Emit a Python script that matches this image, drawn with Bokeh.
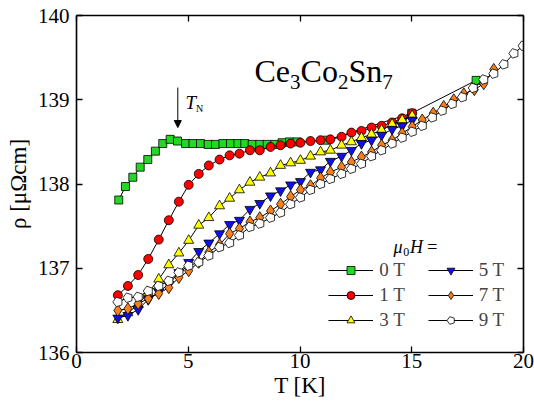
import math
from bokeh.plotting import figure
from bokeh.models import (LinearAxis, FixedTicker, Label, Arrow, NormalHead,
                          Legend, LegendItem)
from bokeh.embed import file_html
from bokeh.resources import INLINE

# ---------------- data ----------------
temp_0T = [1.89, 2.19, 2.52, 2.85, 3.19, 3.53, 3.86, 4.19, 4.52, 4.88, 5.21, 5.55,
           5.89, 6.22, 6.55, 6.89, 7.22, 7.53, 7.86, 8.20, 8.53, 8.87, 9.20, 9.53,
           9.87, 11.20, 15.00, 17.88]
rho_0T = [137.81, 137.97, 138.08, 138.20, 138.29, 138.39, 138.48, 138.53, 138.51,
          138.48, 138.48, 138.48, 138.47, 138.47, 138.48, 138.48, 138.48, 138.48,
          138.47, 138.47, 138.47, 138.47, 138.49, 138.50, 138.50, 138.52, 138.84,
          139.23]

temp_low = [1.85, 2.30, 2.76, 3.21, 3.68, 4.13, 4.58, 5.02, 5.47, 5.92, 6.40, 6.85,
            7.29, 7.76, 8.20, 8.68, 9.13, 9.58, 10.02, 10.47, 10.92, 11.36, 11.86,
            12.30, 12.75, 13.20, 13.65, 14.12, 14.57, 15.02]

rho_1T = [136.68, 136.79, 136.92, 137.11, 137.34, 137.57, 137.79, 137.99, 138.12,
          138.22, 138.29, 138.34, 138.36, 138.40, 138.40, 138.44, 138.46, 138.48,
          138.49, 138.51, 138.52, 138.53, 138.56, 138.61, 138.63, 138.67, 138.69,
          138.73, 138.78, 138.84]
rho_3T = [136.39, 136.47, 136.57, 136.71, 136.87, 137.04, 137.18, 137.33, 137.51,
          137.60, 137.74, 137.83, 137.93, 138.02, 138.08, 138.13, 138.22, 138.25,
          138.28, 138.33, 138.38, 138.40, 138.46, 138.50, 138.55, 138.59, 138.64,
          138.71, 138.76, 138.81]
rho_5T = [136.41, 136.44, 136.51, 136.63, 136.72, 136.81, 136.95, 137.07, 137.20,
          137.30, 137.41, 137.52, 137.57, 137.70, 137.77, 137.86, 137.92, 137.99,
          138.03, 138.14, 138.17, 138.27, 138.33, 138.40, 138.48, 138.52, 138.58,
          138.65, 138.69, 138.76]

temp_7T = temp_low + [15.47, 15.96, 16.43, 16.88, 17.33, 17.80, 18.22, 18.67]
rho_7T = [136.50, 136.52, 136.58, 136.64, 136.70, 136.77, 136.89, 136.97, 137.07,
          137.19, 137.28, 137.41, 137.47, 137.55, 137.60, 137.68, 137.76, 137.85,
          137.93, 137.98, 138.07, 138.14, 138.20, 138.26, 138.32, 138.38, 138.46,
          138.52, 138.60, 138.68, 138.76, 138.84, 138.92, 139.00, 139.07, 139.12,
          139.19, 139.36]

temp_9T = temp_low + [15.47, 15.92, 16.36, 16.81, 17.26, 17.75, 18.22, 18.67, 19.12,
                      19.57, 19.98]
rho_9T = [136.60, 136.65, 136.66, 136.73, 136.79, 136.85, 136.95, 137.03, 137.07,
          137.15, 137.25, 137.30, 137.39, 137.49, 137.53, 137.60, 137.66, 137.76,
          137.84, 137.93, 138.00, 138.06, 138.12, 138.18, 138.24, 138.33, 138.40,
          138.48, 138.55, 138.62, 138.69, 138.79, 138.87, 138.95, 139.03, 139.14,
          139.24, 139.31, 139.42, 139.55, 139.64]

field_labels = ["0 T", "1 T", "3 T", "5 T", "7 T", "9 T"]
x_ticks = [0, 5, 10, 15, 20]
y_ticks = [136, 137, 138, 139, 140]

FONT = "Liberation Serif"
QFONT = "'Liberation Serif'"

# ---------------- figure ----------------
p = figure(width=534, height=408, x_range=(0, 20), y_range=(136, 140),
           output_backend="svg", toolbar_location=None,
           min_border_left=76, min_border_right=11, min_border_top=15,
           min_border_bottom=56, x_axis_location=None, y_axis_location=None)
p.grid.visible = False
p.outline_line_color = None
p.background_fill_color = "white"
p.border_fill_color = "white"


def make_axis(ticks, show_labels, standoff, font, **extra):
    return LinearAxis(
        ticker=FixedTicker(ticks=ticks),
        axis_line_width=1.6, axis_line_color="black",
        major_tick_in=6, major_tick_out=0, major_tick_line_width=1.3,
        minor_tick_line_color=None,
        major_label_standoff=standoff,
        major_label_text_font=font,
        major_label_text_font_size="21px" if show_labels else "0px",
        major_label_text_color="black" if show_labels else None,
        **extra)


xb = make_axis(x_ticks, True, 1, QFONT, axis_label="T [K]",
               axis_label_text_font=QFONT, axis_label_text_font_size="23px",
               axis_label_text_font_style="normal", axis_label_text_color="black",
               axis_label_standoff=2)
xt = make_axis(x_ticks, False, 0, QFONT)
yl = make_axis(y_ticks, True, 7, FONT, axis_label="ρ [μΩcm]",
               axis_label_text_font=FONT, axis_label_text_font_size="23px",
               axis_label_text_font_style="normal", axis_label_text_color="black",
               axis_label_standoff=4)
yr = make_axis(y_ticks, False, 0, FONT)
p.add_layout(xb, "below")
p.add_layout(xt, "above")
p.add_layout(yl, "left")
p.add_layout(yr, "right")

# ---------------- series ----------------
series = [
    (temp_0T, rho_0T, "square", "#22d822", 8),
    (temp_low, rho_1T, "circle", "#ff0000", 9),
    (temp_low, rho_3T, "triangle", "#ffff00", 10),
    (temp_low, rho_5T, "inverted_triangle", "#1010ee", 10),
    (temp_7T, rho_7T, "diamond", "#f8801a", 12),
    (temp_9T, rho_9T, "pentagon", "white", 5),
]

renderers = []
for (tx, ry, marker, color, size) in series:
    ln = p.line(tx, ry, line_color="black", line_width=1)
    if marker == "pentagon":
        mk = p.ngon(x=tx, y=ry, radius=size, radius_units="screen", n=5,
                    angle=math.pi / 2, fill_color=color, line_color="black",
                    line_width=0.8)
    else:
        mk = p.scatter(tx, ry, marker=marker, size=size, fill_color=color,
                       line_color="black", line_width=0.8)
    renderers.append([ln, mk])


# ---------------- annotations ----------------
def dx(px):
    return (px - 76) / 22.35


def dy(py):
    return 140 - (py - 15) / 84.2


def lab(text, px, py, size, style="normal", align="left"):
    p.add_layout(Label(x=dx(px), y=dy(py), text=text, text_font=FONT,
                       text_font_size=f"{size}px", text_font_style=style,
                       text_align=align, text_baseline="alphabetic",
                       text_color="black"))


# compound formula
lab("Ce", 254, 70, 32)
lab("3", 289.6, 81.5, 21)
lab("Co", 300.1, 70, 32)
lab("2", 337.4, 81.5, 21)
lab("Sn", 347.9, 70, 32)
lab("7", 381.7, 81.5, 21)

# T_N arrow
p.add_layout(Arrow(x_start=dx(177.3), y_start=dy(87), x_end=dx(177.3), y_end=dy(127),
                   line_width=1, line_color="black",
                   end=NormalHead(size=7, fill_color="black", line_color="black")))
lab("T", 185, 101.5, 19, "italic")
lab("N", 195.5, 108.3, 10)

# mu0 H =
lab("μ", 393, 246.7, 18, "italic")
lab("0", 402.7, 251.7, 12)
lab("H", 409.5, 246.7, 18, "italic")
lab("=", 426.7, 246.7, 18)


# ---------------- legends ----------------
def make_legend(idxs, vx):
    items = [LegendItem(label=field_labels[i], renderers=renderers[i]) for i in idxs]
    lg = Legend(items=items, location=(vx, 21), orientation="vertical",
                glyph_width=45, glyph_height=20, label_height=20,
                label_standoff=6, spacing=3, padding=0, margin=0,
                label_text_font=QFONT, label_text_font_size="19px",
                border_line_color=None, background_fill_alpha=0)
    p.add_layout(lg)


make_legend([0, 1, 2], 252.3)
make_legend([3, 4, 5], 351.7)

open("out.html", "w").write(file_html(p, INLINE))
